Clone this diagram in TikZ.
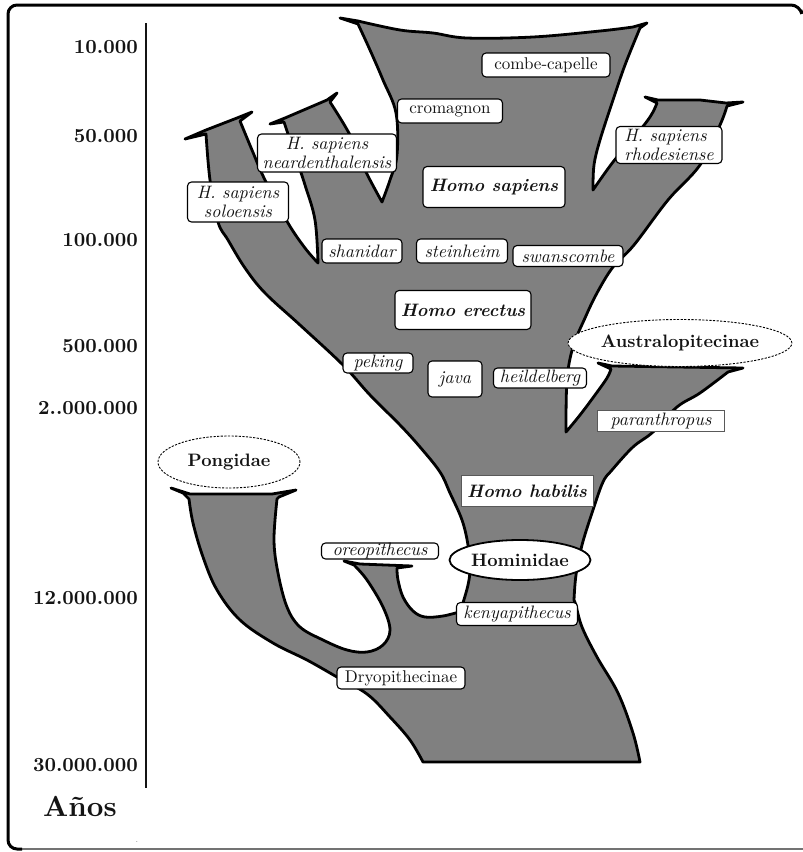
\documentclass[tikz,border=0pt]{standalone}
\usepackage{fontspec}
\setmainfont{lmroman10-regular.otf}[
  BoldFont=lmroman10-bold.otf,
  ItalicFont=lmroman10-italic.otf,
  BoldItalicFont=lmroman10-bolditalic.otf]
\usetikzlibrary{shapes.geometric}
\definecolor{branch}{HTML}{808080}
\definecolor{ink}{HTML}{141414}
\tikzset{
  tree/.style={fill=branch, draw=black, line width=2.8pt, line join=round},
  tagbox/.style={draw=black, fill=white, rounded corners=4pt, line width=1.1pt,
    inner sep=1pt, text=ink, font=\fontsize{17}{19}\selectfont},
  itagbox/.style={tagbox, font=\fontsize{18}{18.5}\selectfont\itshape},
  bitagbox/.style={tagbox, font=\fontsize{18}{20}\selectfont\bfseries\itshape},
  plainbox/.style={draw=black!65, fill=white, line width=0.8pt, inner sep=1pt, text=ink},
  clade/.style={ellipse, draw=black, fill=white, inner sep=0pt, text=ink,
    font=\fontsize{18}{20}\selectfont\bfseries},
  dashedclade/.style={clade, line width=0.9pt, dash pattern=on 2.2pt off 1.4pt},
  yearlbl/.style={anchor=east, inner sep=0pt, text=ink, font=\fontsize{20}{22}\selectfont\bfseries},
}
\begin{document}
\begin{tikzpicture}[x=1pt, y=-1pt]
\useasboundingbox (0,0) rectangle (803,852);
% outer frame: heavy top and left edge, light bottom edge
\draw[black!55, line width=1.2pt] (14,849) -- (803,849);
\draw[line width=3pt, rounded corners=9pt] (801,10) -- (800,5) -- (8,5) -- (8,849) -- (22,849);

% time axis
\coordinate (axtop) at (146,23);
\coordinate (axbot) at (146,788);
\draw[line width=2pt, ink] (axtop) -- (axbot);
\node[yearlbl] (y1) at (138,47)  {10.000};
\node[yearlbl] (y2) at (138,136) {50.000};
\node[yearlbl] (y3) at (138,240) {100.000};
\node[yearlbl] (y4) at (138,346) {500.000};
\node[yearlbl] (y5) at (138,408) {2..000.000};
\node[yearlbl] (y6) at (138,598) {12.000.000};
\node[yearlbl] (y7) at (138,765) {30.000.000};
\node[inner sep=0pt, text=ink, font=\fontsize{29}{31}\selectfont\bfseries] (anos) at (80,806) {Años};
\node[inner sep=0pt, text=ink, font=\fontsize{8}{8}\selectfont] (dot) at (137,842) {.};

% the branching tree
\draw[tree]
 (423,762)
 -- plot[smooth, tension=0.6] coordinates {(423,762) (410,740) (390,717) (367,694) (337,677) (307,660) (273,643) (240,620) (217,590) (203,557) (193,523) (189,499)}
 -- (183,493) -- (171,488) -- (190,494)
 -- (272,494) -- (296,490) -- (279,497)
 -- plot[smooth, tension=0.6] coordinates {(277,499) (274,540) (278,573) (287,607) (300,627) (323,640) (347,650) (367,652) (383,645) (390,630) (383,607) (367,580) (354,565)}
 -- (344,561) -- (360,564) -- (412,566) -- (397,568)
 -- plot[smooth, tension=0.6] coordinates {(397,569) (398,580) (403,597) (413,611) (425,617) (443,616) (459,612)}
 -- plot[smooth, tension=0.6] coordinates {(462,606) (468,585) (470,568) (468,545) (462,520) (450,493) (440,472) (420,447) (400,425) (370,395) (343,365) (300,325) (265,293) (245,268) (228,240) (218,222) (210,180) (206,134)}
 -- (185,139) -- (206,130) -- (237,118) -- (252,112) -- (240,121)
 -- plot[smooth, tension=0.6] coordinates {(240,121) (252,150) (265,180) (288,223) (305,248) (318,263)}
 -- plot[smooth, tension=0.6] coordinates {(318,263) (315,220) (305,185) (295,155) (284,122)}
 -- (270,124) -- (285,118) -- (327,100) -- (337,93) -- (330,102)
 -- plot[smooth, tension=0.6] coordinates {(330,102) (350,135) (365,170) (382,202)}
 -- plot[smooth, tension=0.6] coordinates {(382,202) (390,180) (397,155) (396,113) (383,80) (370,50) (358,24)}
 -- (340,18) -- (358,21)
 -- plot[smooth, tension=0.6] coordinates {(358,21) (400,30) (433,33) (467,38) (533,37) (600,31) (633,27)}
 -- (647,23) -- (640,28)
 -- plot[smooth, tension=0.6] coordinates {(640,28) (625,65) (613,100) (600,140) (594,165) (593,190)}
 -- plot[smooth, tension=0.6] coordinates {(593,190) (613,162) (632,140) (650,117) (657,103)}
 -- (645,97) -- (658,100) -- (700,100) -- (726,103) -- (743,102) -- (727,106)
 -- plot[smooth, tension=0.6] coordinates {(727,106) (720,125) (700,165) (668,200) (634,245) (613,267) (597,293) (585,318) (573,347) (567,380) (566,432)}
 -- plot[smooth, tension=0.6] coordinates {(566,432) (580,415) (595,395) (607,378) (611,369)}
 -- (598,363) -- (612,366) -- (743,368) -- (728,372)
 -- plot[smooth, tension=0.6] coordinates {(728,372) (700,393) (677,407) (653,432) (633,447) (612,470) (603,482) (593,510) (582,545) (576,575) (574,600)}
 -- plot[smooth, tension=0.6] coordinates {(576,605) (582,627) (597,657) (618,693) (633,733) (640,762)}
 -- cycle;

% labels on the tree
\node[tagbox, minimum width=128, minimum height=24] (combe) at (546,65) {combe-capelle};
\node[tagbox, minimum width=105, minimum height=24] (cromagnon) at (450,111) {cromagnon};
\node[itagbox, minimum width=139, minimum height=38, align=center] (neard) at (327,153) {H. sapiens\\neardenthalensis};
\node[itagbox, minimum width=101, minimum height=40, align=center] (solo) at (238,202) {H. sapiens\\soloensis};
\node[bitagbox, minimum width=142, minimum height=41] (hsap) at (494,187) {Homo sapiens};
\node[itagbox, minimum width=106, minimum height=37, align=left] (rhod) at (669,145) {H. sapiens\\rhodesiense};
\node[itagbox, minimum width=80, minimum height=24] (shanidar) at (362,251) {shanidar};
\node[itagbox, minimum width=91, minimum height=24] (steinheim) at (462,251) {steinheim};
\node[itagbox, minimum width=110, minimum height=21] (swans) at (568,256) {swanscombe};
\node[bitagbox, minimum width=136, minimum height=39] (herectus) at (463,310) {Homo erectus};
\node[itagbox, minimum width=70, minimum height=20] (peking) at (378,363) {peking};
\node[itagbox, minimum width=54, minimum height=36] (java) at (455,379) {java};
\node[itagbox, minimum width=93, minimum height=20] (heild) at (540,378) {heildelberg};
\node[dashedclade, minimum width=172, minimum height=47] (austral) at (680,343) {Australopitecinae};
\node[plainbox, font=\fontsize{18}{20}\selectfont\itshape, minimum width=127, minimum height=21] (paran) at (661,421) {paranthropus};
\node[plainbox, font=\fontsize{18}{20}\selectfont\bfseries\itshape, minimum width=132, minimum height=31] (hhab) at (527,491) {Homo habilis};
\node[dashedclade, minimum width=142, minimum height=52] (pong) at (229,462) {Pongidae};
\node[itagbox, minimum width=117, minimum height=16, inner sep=0pt] (oreo) at (380,551) {oreopithecus};
\node[clade, line width=1.8pt, minimum width=141, minimum height=40] (homin) at (520,560) {Hominidae};
\node[itagbox, minimum width=121, minimum height=23] (kenya) at (517,614) {kenyapithecus};
\node[tagbox, minimum width=128, minimum height=22] (dryo) at (401,678) {Dryopithecinae};
\end{tikzpicture}
\end{document}
